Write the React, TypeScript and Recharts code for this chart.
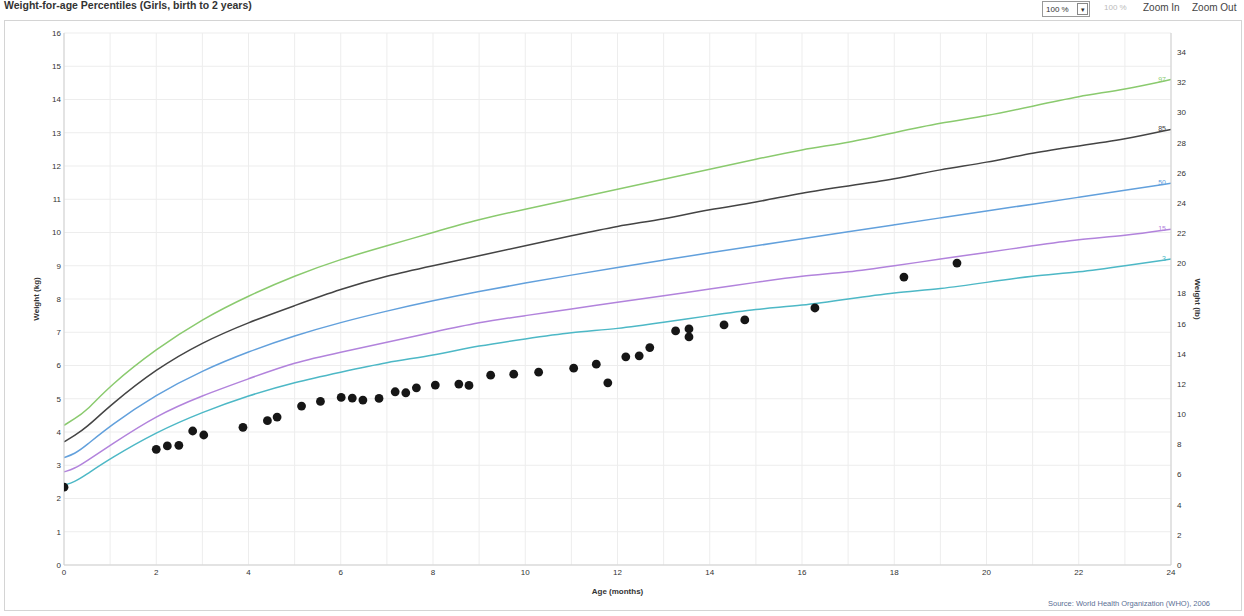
import { ComposedChart, Line, Scatter, XAxis, YAxis, CartesianGrid } from 'recharts'

// WHO weight-for-age, girls (kg); ages in months (weeks 1 and 2 included)
const ages = [0, 0.23, 0.46, 1, 2, 3, 4, 5, 6, 7, 8, 9, 10, 11, 12, 13, 14, 15, 16, 17, 18, 19, 20, 21, 22, 23, 24]
const p3 = [2.4, 2.5, 2.7, 3.2, 4.0, 4.6, 5.1, 5.5, 5.8, 6.1, 6.3, 6.6, 6.8, 7.0, 7.1, 7.3, 7.5, 7.7, 7.8, 8.0, 8.2, 8.3, 8.5, 8.7, 8.8, 9.0, 9.2]
const p15 = [2.8, 2.9, 3.1, 3.6, 4.5, 5.1, 5.6, 6.1, 6.4, 6.7, 7.0, 7.3, 7.5, 7.7, 7.9, 8.1, 8.3, 8.5, 8.7, 8.8, 9.0, 9.2, 9.4, 9.6, 9.8, 9.9, 10.1]
const p50 = [3.23, 3.34, 3.57, 4.19, 5.13, 5.85, 6.42, 6.9, 7.3, 7.64, 7.95, 8.23, 8.48, 8.72, 8.95, 9.17, 9.39, 9.6, 9.81, 10.02, 10.23, 10.44, 10.65, 10.85, 11.06, 11.27, 11.48]
const p85 = [3.7, 3.9, 4.1, 4.8, 5.9, 6.7, 7.3, 7.8, 8.3, 8.7, 9.0, 9.3, 9.6, 9.9, 10.2, 10.4, 10.7, 10.9, 11.2, 11.4, 11.6, 11.9, 12.1, 12.4, 12.6, 12.8, 13.1]
const p97 = [4.2, 4.4, 4.6, 5.4, 6.5, 7.4, 8.1, 8.7, 9.2, 9.6, 10.0, 10.4, 10.7, 11.0, 11.3, 11.6, 11.9, 12.2, 12.5, 12.7, 13.0, 13.3, 13.5, 13.8, 14.1, 14.3, 14.6]

// child's measurements
const visitAges = [0, 2.0, 2.24, 2.49, 2.79, 3.03, 3.88, 4.41, 4.62, 5.15, 5.56, 6.01, 6.25, 6.48, 6.83, 7.18, 7.41, 7.64, 8.05, 8.56, 8.78, 9.25, 9.75, 10.29, 11.05, 11.54, 11.79, 12.18, 12.47, 12.7, 13.26, 13.55, 13.55, 14.31, 14.76, 16.28, 18.21, 19.36]
const visitKg = [2.34, 3.48, 3.58, 3.6, 4.03, 3.91, 4.14, 4.34, 4.45, 4.78, 4.92, 5.04, 5.02, 4.96, 5.01, 5.21, 5.18, 5.33, 5.41, 5.44, 5.4, 5.71, 5.74, 5.8, 5.92, 6.04, 5.48, 6.26, 6.29, 6.54, 7.04, 7.1, 6.86, 7.22, 7.37, 7.73, 8.66, 9.08]

const monthTicks = [0, 2, 4, 6, 8, 10, 12, 14, 16, 18, 20, 22, 24]
const kgTicks = [0, 1, 2, 3, 4, 5, 6, 7, 8, 9, 10, 11, 12, 13, 14, 15, 16]
const lbTicks = [0, 2, 4, 6, 8, 10, 12, 14, 16, 18, 20, 22, 24, 26, 28, 30, 32, 34]
const gridMonths = Array.from({ length: 25 }, (_, i) => i)
const gridKg = Array.from({ length: 33 }, (_, i) => i / 2)

const curves = ages.map((age, i) => ({ age, p3: p3[i], p15: p15[i], p50: p50[i], p85: p85[i], p97: p97[i] }))
const visits = visitAges.map((age, i) => ({ age, kg: visitKg[i] }))

const series = [
  { key: 'p97', name: '97', color: '#8aca6e' },
  { key: 'p85', name: '85', color: '#444444' },
  { key: 'p50', name: '50', color: '#62a0dc' },
  { key: 'p15', name: '15', color: '#b283dc' },
  { key: 'p3', name: '3', color: '#4db8c6' },
]

const font = 'Arial, "Liberation Sans", sans-serif'
const tick = { fill: '#333', fontSize: 8, fontFamily: font }

const endLabel = (name: string, color: string) => (props: any) => {
  if (props.index !== ages.length - 1) return null
  return (
    <g>
      <text x={props.x - 5} y={props.y + 2} textAnchor="end" fontSize={7} fontFamily={font} fill={color}>
        {name}
      </text>
    </g>
  )
}

const App = () => {
  return (
    <div style={{ position: 'absolute', left: 0, top: 0, width: 1244, height: 616, background: '#fff', fontFamily: font }}>
      <div style={{ position: 'absolute', left: 4, top: -1, fontSize: 10.5, fontWeight: 'bold', color: '#333' }}>
        Weight-for-age Percentiles (Girls, birth to 2 years)
      </div>
      <div style={{ position: 'absolute', left: 1042, top: 1, width: 48, height: 16, border: '1px solid #999', fontSize: 8, lineHeight: '15px', color: '#333', boxSizing: 'border-box', paddingLeft: 3 }}>
        100 %
        <span style={{ position: 'absolute', right: 1, top: 1, width: 11, height: 12, border: '1px solid #888', fontSize: 7, lineHeight: '12px', textAlign: 'center', boxSizing: 'border-box' }}>▾</span>
      </div>
      <div style={{ position: 'absolute', left: 1104, top: 3, fontSize: 8, color: '#bbb' }}>100 %</div>
      <div style={{ position: 'absolute', left: 1143, top: 2, fontSize: 10, color: '#444' }}>Zoom In</div>
      <div style={{ position: 'absolute', left: 1192, top: 2, fontSize: 10, color: '#444' }}>Zoom Out</div>
      <div style={{ position: 'absolute', left: 4, top: 20, width: 1238, height: 591, border: '1px solid #d4d4d4', boxSizing: 'border-box' }} />
      <div style={{ position: 'absolute', left: 0, top: 0 }}>
        <ComposedChart width={1244} height={616} margin={{ top: 33, right: 28, bottom: 21, left: 24 }}>
          <CartesianGrid horizontalValues={gridKg} verticalValues={gridMonths} stroke="#ededed" yAxisId="kg" />
          <XAxis
            dataKey="age"
            type="number"
            domain={[0, 24]}
            ticks={monthTicks}
            allowDataOverflow
            height={30}
            tick={tick}
            tickLine={false}
            tickSize={2}
            tickMargin={2}
            axisLine={{ stroke: '#d0d0d0' }}
            label={{ value: 'Age (months)', position: 'insideBottom', offset: 1, style: { fontSize: 8, fontWeight: 'bold', fill: '#333', fontFamily: font } }}
          />
          <YAxis
            yAxisId="kg"
            type="number"
            domain={[0, 16]}
            ticks={kgTicks}
            allowDataOverflow
            width={40}
            tick={tick}
            tickLine={false}
            tickSize={0}
            tickMargin={3}
            axisLine={{ stroke: '#d0d0d0' }}
            label={{ value: 'Weight (kg)', angle: -90, position: 'insideLeft', offset: 12, style: { textAnchor: 'middle', fontSize: 8, fontWeight: 'bold', fill: '#333', fontFamily: font } }}
          />
          <YAxis
            yAxisId="lb"
            orientation="right"
            type="number"
            domain={[0, 16 * 2.20462]}
            ticks={lbTicks}
            allowDataOverflow
            width={45}
            tick={tick}
            tickLine={false}
            tickSize={0}
            tickMargin={6}
            axisLine={{ stroke: '#d0d0d0' }}
            label={{ value: 'Weight (lb)', angle: 90, position: 'insideRight', offset: 18, style: { textAnchor: 'middle', fontSize: 8, fontWeight: 'bold', fill: '#333', fontFamily: font } }}
          />
          {series.map((s) => (
            <Line
              key={s.key}
              yAxisId="kg"
              data={curves}
              dataKey={s.key}
              type="basis"
              stroke={s.color}
              strokeWidth={1.5}
              dot={false}
              activeDot={false}
              label={endLabel(s.name, s.color)}
              isAnimationActive={false}
            />
          ))}
          <Scatter
            yAxisId="kg"
            data={visits}
            dataKey="kg"
            fill="#161616"
            shape={(p: any) => <circle cx={p.cx} cy={p.cy} r={4.4} fill="#161616" />}
            isAnimationActive={false}
          />
        </ComposedChart>
      </div>
      <div style={{ position: 'absolute', left: 1048, top: 599, fontSize: 7.5, color: '#5b6f94' }}>
        Source: World Health Organization (WHO), 2006
      </div>
    </div>
  )
}

export default App
